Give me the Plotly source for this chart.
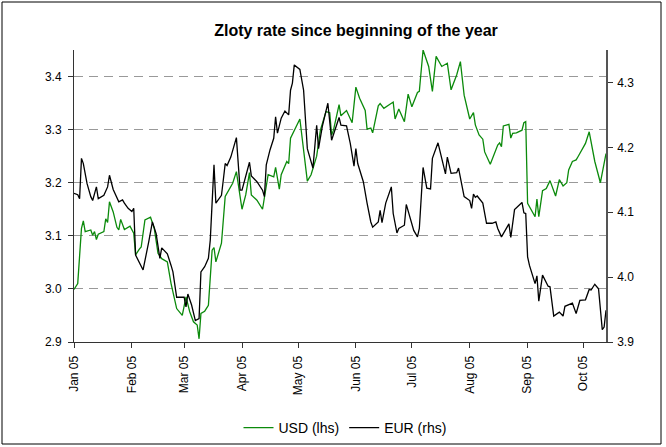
import pandas as pd
import plotly.graph_objects as go

# ---- data (day offsets from 1 Jan 2005) ----
usd_days = [0, 2, 4, 5, 6, 9, 10, 11, 12, 13, 16, 17, 18, 19, 21, 23, 24, 25, 27, 30,
            32, 33, 35, 36, 38, 41, 43, 45, 47, 50, 52, 55, 58, 60, 62, 64, 66, 67, 68, 70,
            72, 74, 75, 76, 79, 81, 85, 87, 90, 92, 94, 95, 98, 101, 104, 107, 108, 110, 111, 114,
            115, 116, 121, 125, 127, 130, 132, 135, 137, 138, 139, 142, 143, 146, 149, 151, 153, 156, 157, 159,
            160, 163, 164, 166, 171, 172, 174, 177, 179, 181, 184, 185, 187, 190, 192, 194, 197, 200, 202, 205,
            207, 209, 212, 214, 215, 217, 219, 220, 223, 225, 227, 228, 229, 230, 233, 234, 235, 237, 240, 241,
            242, 243, 244, 247, 248, 249, 251, 253, 255, 258, 260, 262, 264, 265, 267, 269, 270, 271, 272, 274,
            276, 279, 282, 285]
usd_values = [2.999, 3.010, 3.114, 3.128, 3.108, 3.111, 3.101, 3.108, 3.093, 3.103, 3.108, 3.132, 3.125, 3.164, 3.145, 3.116, 3.111, 3.131, 3.112, 3.118,
              3.105, 3.064, 3.075, 3.079, 3.130, 3.135, 3.114, 3.067, 3.057, 3.051, 3.010, 2.963, 2.950, 2.985, 2.957, 2.938, 2.932, 2.906, 2.954, 2.958,
              2.969, 3.073, 3.078, 3.051, 3.086, 3.174, 3.199, 3.221, 3.150, 3.177, 3.219, 3.177, 3.167, 3.150, 3.215, 3.211, 3.229, 3.188, 3.215, 3.240,
              3.236, 3.284, 3.320, 3.203, 3.215, 3.250, 3.299, 3.334, 3.332, 3.290, 3.299, 3.347, 3.326, 3.336, 3.313, 3.380, 3.359, 3.336, 3.301, 3.303,
              3.294, 3.345, 3.349, 3.340, 3.352, 3.320, 3.339, 3.315, 3.367, 3.343, 3.370, 3.372, 3.450, 3.419, 3.372, 3.438, 3.419, 3.425, 3.375, 3.403,
              3.428, 3.365, 3.320, 3.332, 3.309, 3.290, 3.282, 3.258, 3.235, 3.252, 3.271, 3.275, 3.268, 3.307, 3.310, 3.284, 3.293, 3.294, 3.299, 3.313,
              3.315, 3.161, 3.155, 3.136, 3.169, 3.136, 3.185, 3.189, 3.204, 3.175, 3.206, 3.194, 3.200, 3.224, 3.240, 3.243, 3.249, 3.255, 3.262, 3.274,
              3.296, 3.240, 3.200, 3.255]

eur_days = [0, 2, 3, 4, 5, 7, 9, 10, 12, 13, 16, 18, 19, 21, 24, 26, 27, 29, 31, 32,
            33, 35, 37, 40, 42, 44, 46, 47, 50, 52, 53, 55, 59, 60, 61, 63, 65, 67, 68, 70,
            72, 73, 75, 76, 79, 80, 81, 82, 84, 87, 89, 90, 94, 95, 98, 101, 102, 103, 105, 107,
            108, 109, 111, 113, 115, 116, 117, 118, 121, 123, 125, 128, 130, 131, 133, 136, 138, 142, 143, 146,
            148, 150, 151, 152, 155, 157, 159, 160, 163, 164, 165, 167, 170, 171, 173, 174, 177, 178, 181, 182,
            184, 185, 187, 189, 191, 192, 195, 197, 199, 200, 202, 205, 206, 209, 212, 213, 214, 215, 216, 219,
            221, 224, 226, 227, 229, 233, 234, 236, 238, 240, 241, 242, 243, 244, 247, 248, 249, 251, 254, 255,
            257, 260, 262, 263, 267, 269, 271, 274, 276, 277, 279, 281, 283, 284, 285]
eur_values = [4.129, 4.127, 4.121, 4.183, 4.175, 4.144, 4.124, 4.118, 4.139, 4.121, 4.126, 4.139, 4.157, 4.135, 4.116, 4.119, 4.114, 4.106, 4.101, 4.106,
              4.034, 4.022, 4.011, 4.054, 4.085, 4.067, 4.029, 4.045, 4.036, 4.018, 4.008, 3.969, 3.969, 3.954, 3.974, 3.957, 3.933, 3.936, 4.008, 4.016,
              4.029, 4.057, 4.173, 4.114, 4.126, 4.150, 4.175, 4.172, 4.185, 4.215, 4.134, 4.134, 4.177, 4.156, 4.147, 4.134, 4.124, 4.173, 4.196, 4.214,
              4.247, 4.222, 4.245, 4.256, 4.250, 4.288, 4.299, 4.327, 4.320, 4.288, 4.198, 4.168, 4.234, 4.198, 4.232, 4.268, 4.211, 4.246, 4.234, 4.233,
              4.206, 4.171, 4.198, 4.175, 4.147, 4.114, 4.085, 4.077, 4.085, 4.103, 4.084, 4.114, 4.139, 4.098, 4.068, 4.075, 4.080, 4.112, 4.083, 4.072,
              4.062, 4.075, 4.169, 4.137, 4.136, 4.183, 4.207, 4.183, 4.159, 4.185, 4.160, 4.161, 4.168, 4.124, 4.118, 4.106, 4.128, 4.123, 4.125, 4.114,
              4.083, 4.083, 4.085, 4.075, 4.062, 4.082, 4.061, 4.104, 4.110, 4.115, 4.099, 4.098, 4.031, 4.018, 3.990, 4.002, 3.963, 4.003, 3.986, 3.985,
              3.940, 3.946, 3.940, 3.955, 3.960, 3.944, 3.964, 3.965, 3.981, 3.980, 3.989, 3.982, 3.919, 3.923, 3.949]

tick_dates = ["2005-01-01", "2005-02-01", "2005-03-01", "2005-04-01", "2005-05-01",
              "2005-06-01", "2005-07-01", "2005-08-01", "2005-09-01", "2005-10-01"]
tick_labels = ["Jan 05", "Feb 05", "Mar 05", "Apr 05", "May 05",
               "Jun 05", "Jul 05", "Aug 05", "Sep 05", "Oct 05"]
usd_ticks = [2.9, 3.0, 3.1, 3.2, 3.3, 3.4]
eur_ticks = [3.9, 4.0, 4.1, 4.2, 4.3]

start = pd.Timestamp("2005-01-01")
usd_dates = start + pd.to_timedelta(usd_days, unit="D")
eur_dates = start + pd.to_timedelta(eur_days, unit="D")
x_end = start + pd.Timedelta(days=285)

FONT = "Liberation Sans, Arial, sans-serif"

fig = go.Figure()
fig.add_trace(go.Scatter(x=usd_dates, y=usd_values, mode="lines", name="USD (lhs)",
                         line=dict(color="#0b8a0b", width=1.3), yaxis="y"))
fig.add_trace(go.Scatter(x=eur_dates, y=eur_values, mode="lines", name="EUR (rhs)",
                         line=dict(color="#000000", width=1.3), yaxis="y2"))

L, R, T, B = 74, 60, 50, 105
W, H = 666, 447
pw, ph = W - L - R, H - T - B

fig.update_layout(
    width=W, height=H,
    margin=dict(l=L, r=R, t=T, b=B, autoexpand=False),
    paper_bgcolor="white", plot_bgcolor="white",
    font=dict(family=FONT, size=12, color="#000000"),
    title=dict(text="<b>Zloty rate since beginning of the year</b>",
               x=356 / W, xref="container", xanchor="center",
               y=1 - 30 / H, yref="container", yanchor="middle",
               font=dict(family=FONT, size=16, color="#000000")),
    xaxis=dict(type="date", range=[start, x_end],
               tickvals=tick_dates, ticktext=tick_labels, tickangle=-90,
               ticks="outside", ticklen=5, tickcolor="#333", ticklabelstandoff=3,
               showline=True, linecolor="#333", linewidth=1,
               showgrid=False, zeroline=False, automargin=False,
               tickfont=dict(family=FONT, size=12)),
    yaxis=dict(range=[2.9, 3.45], tickvals=usd_ticks, tickformat=".1f",
               ticks="outside", ticklen=5, tickcolor="#333", ticklabelstandoff=4,
               showline=True, linecolor="#333", linewidth=1,
               showgrid=True, gridcolor="#999999", gridwidth=1, griddash="9px,6px",
               zeroline=False, automargin=False, tickfont=dict(family=FONT, size=12)),
    yaxis2=dict(range=[3.9, 4.35], tickvals=eur_ticks, tickformat=".1f",
                overlaying="y", side="right",
                ticks="outside", ticklen=5, tickcolor="#333", ticklabelstandoff=2,
                showline=True, linecolor="#555", linewidth=1.5,
                showgrid=False, zeroline=False, automargin=False,
                tickfont=dict(family=FONT, size=12)),
    legend=dict(orientation="h", x=345 / W, xref="container", xanchor="center",
                y=1 - 428 / H, yref="container", yanchor="middle",
                font=dict(family=FONT, size=14), bgcolor="rgba(0,0,0,0)"),
    showlegend=True,
)

fig.add_shape(type="rect", xref="paper", yref="paper",
              x0=(2 - L) / pw, x1=(661 - L) / pw,
              y0=(H - B - 444) / ph, y1=(H - B - 2) / ph,
              line=dict(color="#000000", width=1), fillcolor="rgba(0,0,0,0)", layer="below")

fig.write_html("out.html", config={"displayModeBar": False},
               post_script="document.body.style.margin='0px';document.body.style.overflow='hidden';")
